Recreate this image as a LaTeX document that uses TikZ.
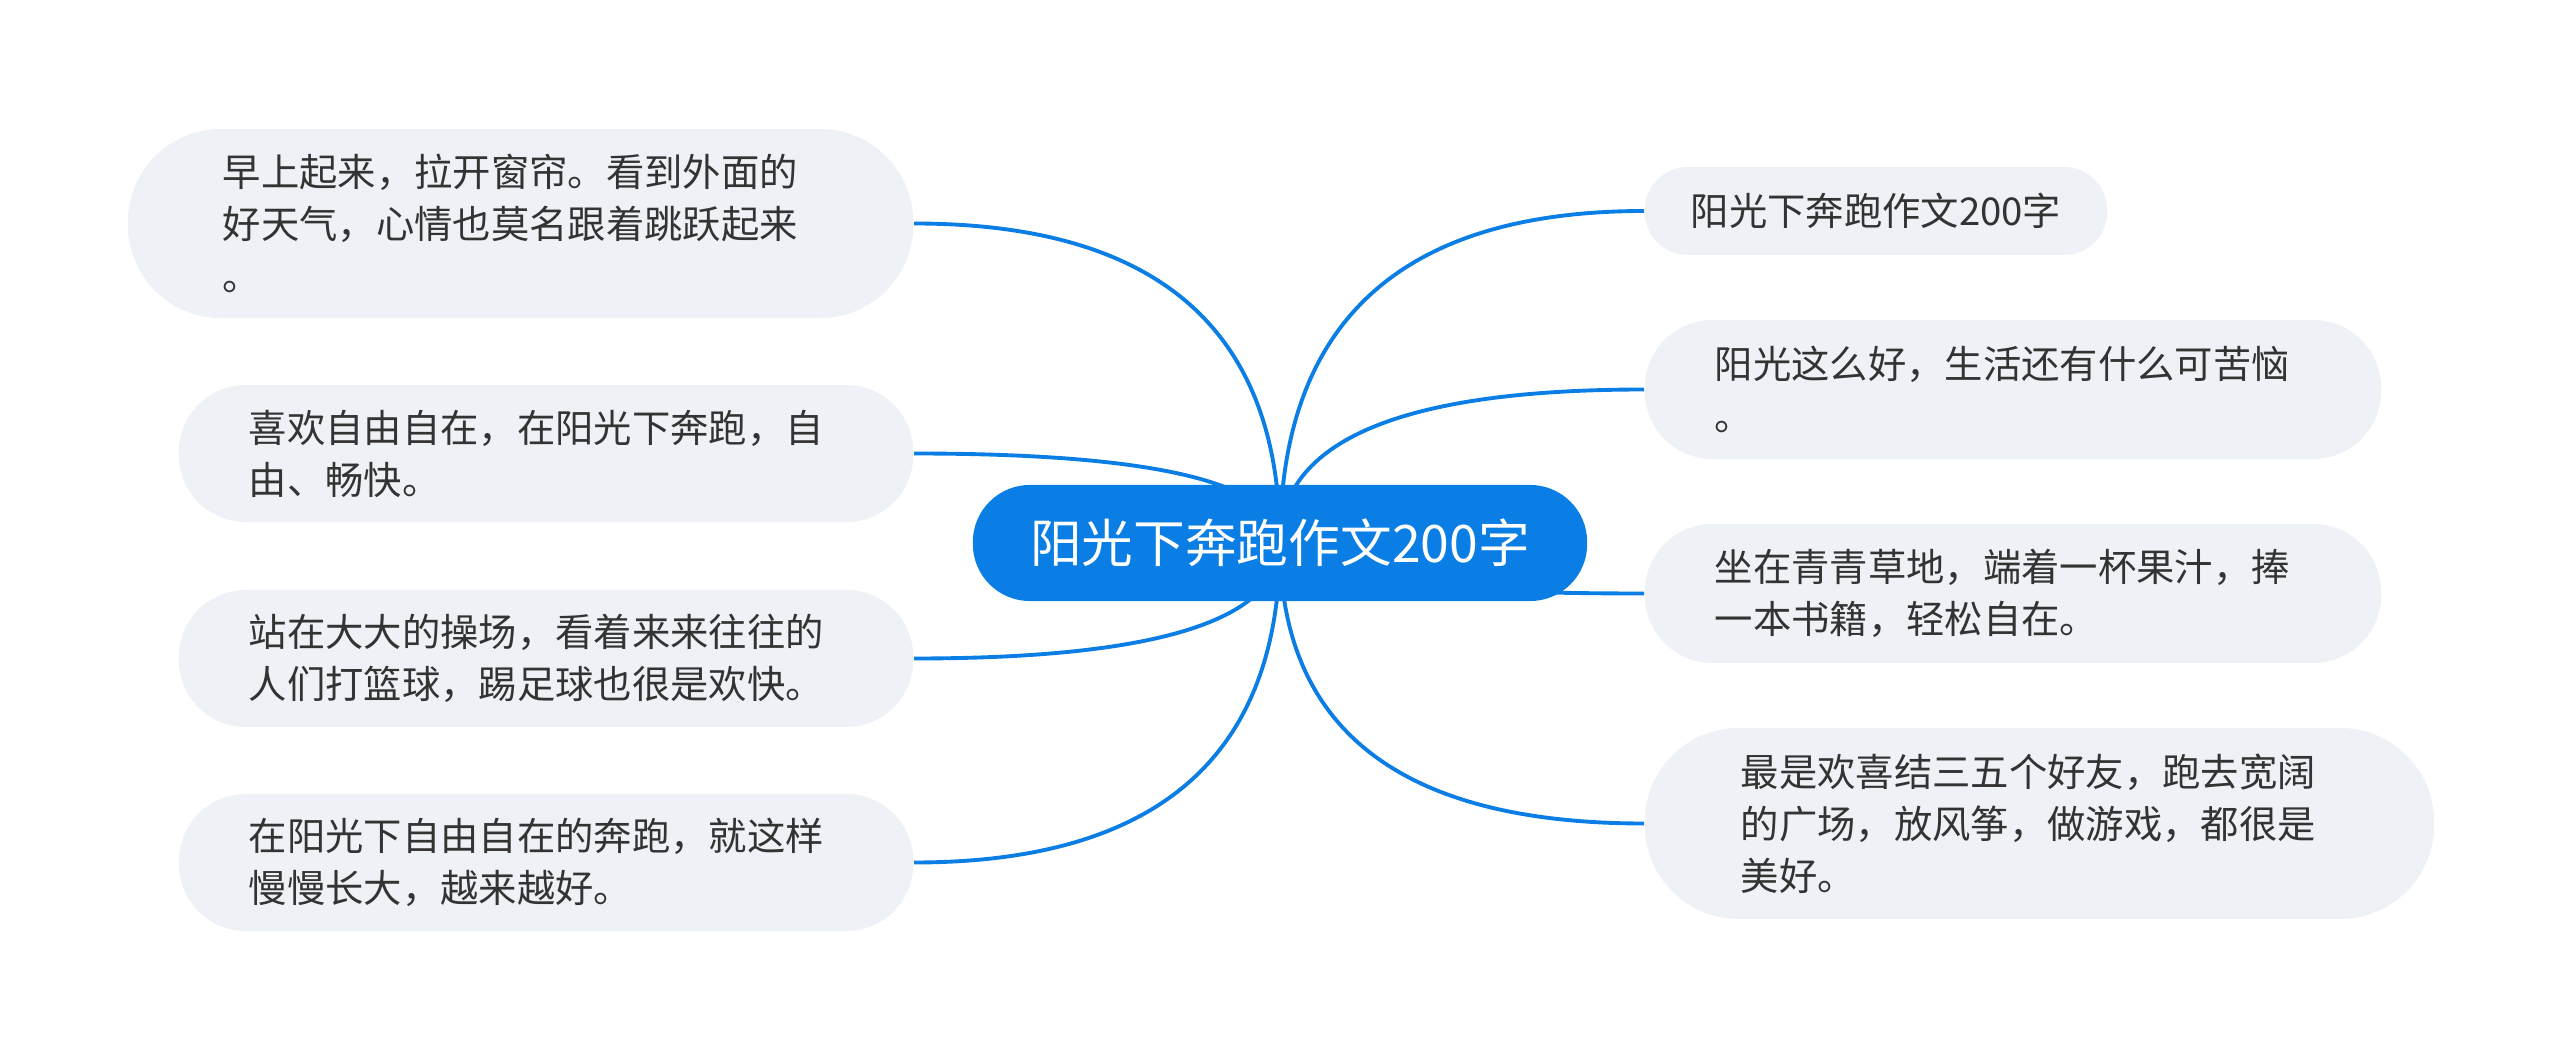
\documentclass[tikz,border=0pt]{standalone}
\usepackage{fontspec}
\usepackage{tikz}
\usetikzlibrary{calc,backgrounds}
\newfontfamily\cjk{Noto Sans CJK SC}
\definecolor{mainBlue}{RGB}{10, 126, 228}
\definecolor{leafGray}{RGB}{238, 241, 245}
\definecolor{textDark}{RGB}{51, 51, 51}

\begin{document}
\begin{tikzpicture}[x=0.01cm, y=-0.01cm,
    leaf/.style={fill=leafGray, text=textDark, align=left, inner ysep=0pt,
      font=\cjk\fontsize{10.9pt}{14.8pt}\selectfont},
    hub/.style={fill=mainBlue, text=white, inner sep=0pt,
      font=\cjk\fontsize{14.7pt}{18pt}\selectfont},
    branch/.style={mainBlue, line width=1.1pt}]
    \useasboundingbox (0,0) rectangle (2560,1061);
    \node[hub, minimum width=6.14cm, minimum height=1.16cm, rounded corners=0.57cm] (main) at (1280,543) {阳光下奔跑作文200字};
    \node[leaf, anchor=east, text width=5.95cm, inner xsep=0.95cm, minimum height=1.89cm, rounded corners=0.93cm] (l1) at (914,223.5) {早上起来，拉开窗帘。看到外面的\\好天气，心情也莫名跟着跳跃起来\\。};
    \node[leaf, anchor=east, text width=5.94cm, inner xsep=0.70cm, minimum height=1.37cm, rounded corners=0.67cm] (l2) at (914,453.5) {喜欢自由自在，在阳光下奔跑，自\\由、畅快。};
    \node[leaf, anchor=east, text width=5.94cm, inner xsep=0.70cm, minimum height=1.37cm, rounded corners=0.67cm] (l3) at (914,658.5) {站在大大的操场，看着来来往往的\\人们打篮球，踢足球也很是欢快。};
    \node[leaf, anchor=east, text width=5.94cm, inner xsep=0.70cm, minimum height=1.37cm, rounded corners=0.67cm] (l4) at (914,862.5) {在阳光下自由自在的奔跑，就这样\\慢慢长大，越来越好。};
    \node[leaf, anchor=west, inner xsep=0.46cm, minimum height=0.88cm, rounded corners=0.43cm] (r1) at (1644,211) {阳光下奔跑作文200字};
    \node[leaf, anchor=west, text width=5.96cm, inner xsep=0.70cm, minimum height=1.39cm, rounded corners=0.68cm] (r2) at (1644,389.5) {阳光这么好，生活还有什么可苦恼\\。};
    \node[leaf, anchor=west, text width=5.96cm, inner xsep=0.70cm, minimum height=1.39cm, rounded corners=0.68cm] (r3) at (1644,593.5) {坐在青青草地，端着一杯果汁，捧\\一本书籍，轻松自在。};
    \node[leaf, anchor=west, text width=5.97cm, inner xsep=0.96cm, minimum height=1.91cm, rounded corners=0.94cm] (r4) at (1644,823.5) {最是欢喜结三五个好友，跑去宽阔\\的广场，放风筝，做游戏，都很是\\美好。};
    \begin{scope}[on background layer]
      \foreach \n/\a in {l1/east, l2/east, l3/east, l4/east, r1/west, r2/west, r3/west, r4/west}
        \draw[branch] (main.center) .. controls ($(main.center)!2/3!(main.center|-\n.\a)$) and ($(\n.\a)!2/3!(main.center|-\n.\a)$) .. (\n.\a);
    \end{scope}
  \end{tikzpicture}
\end{document}
